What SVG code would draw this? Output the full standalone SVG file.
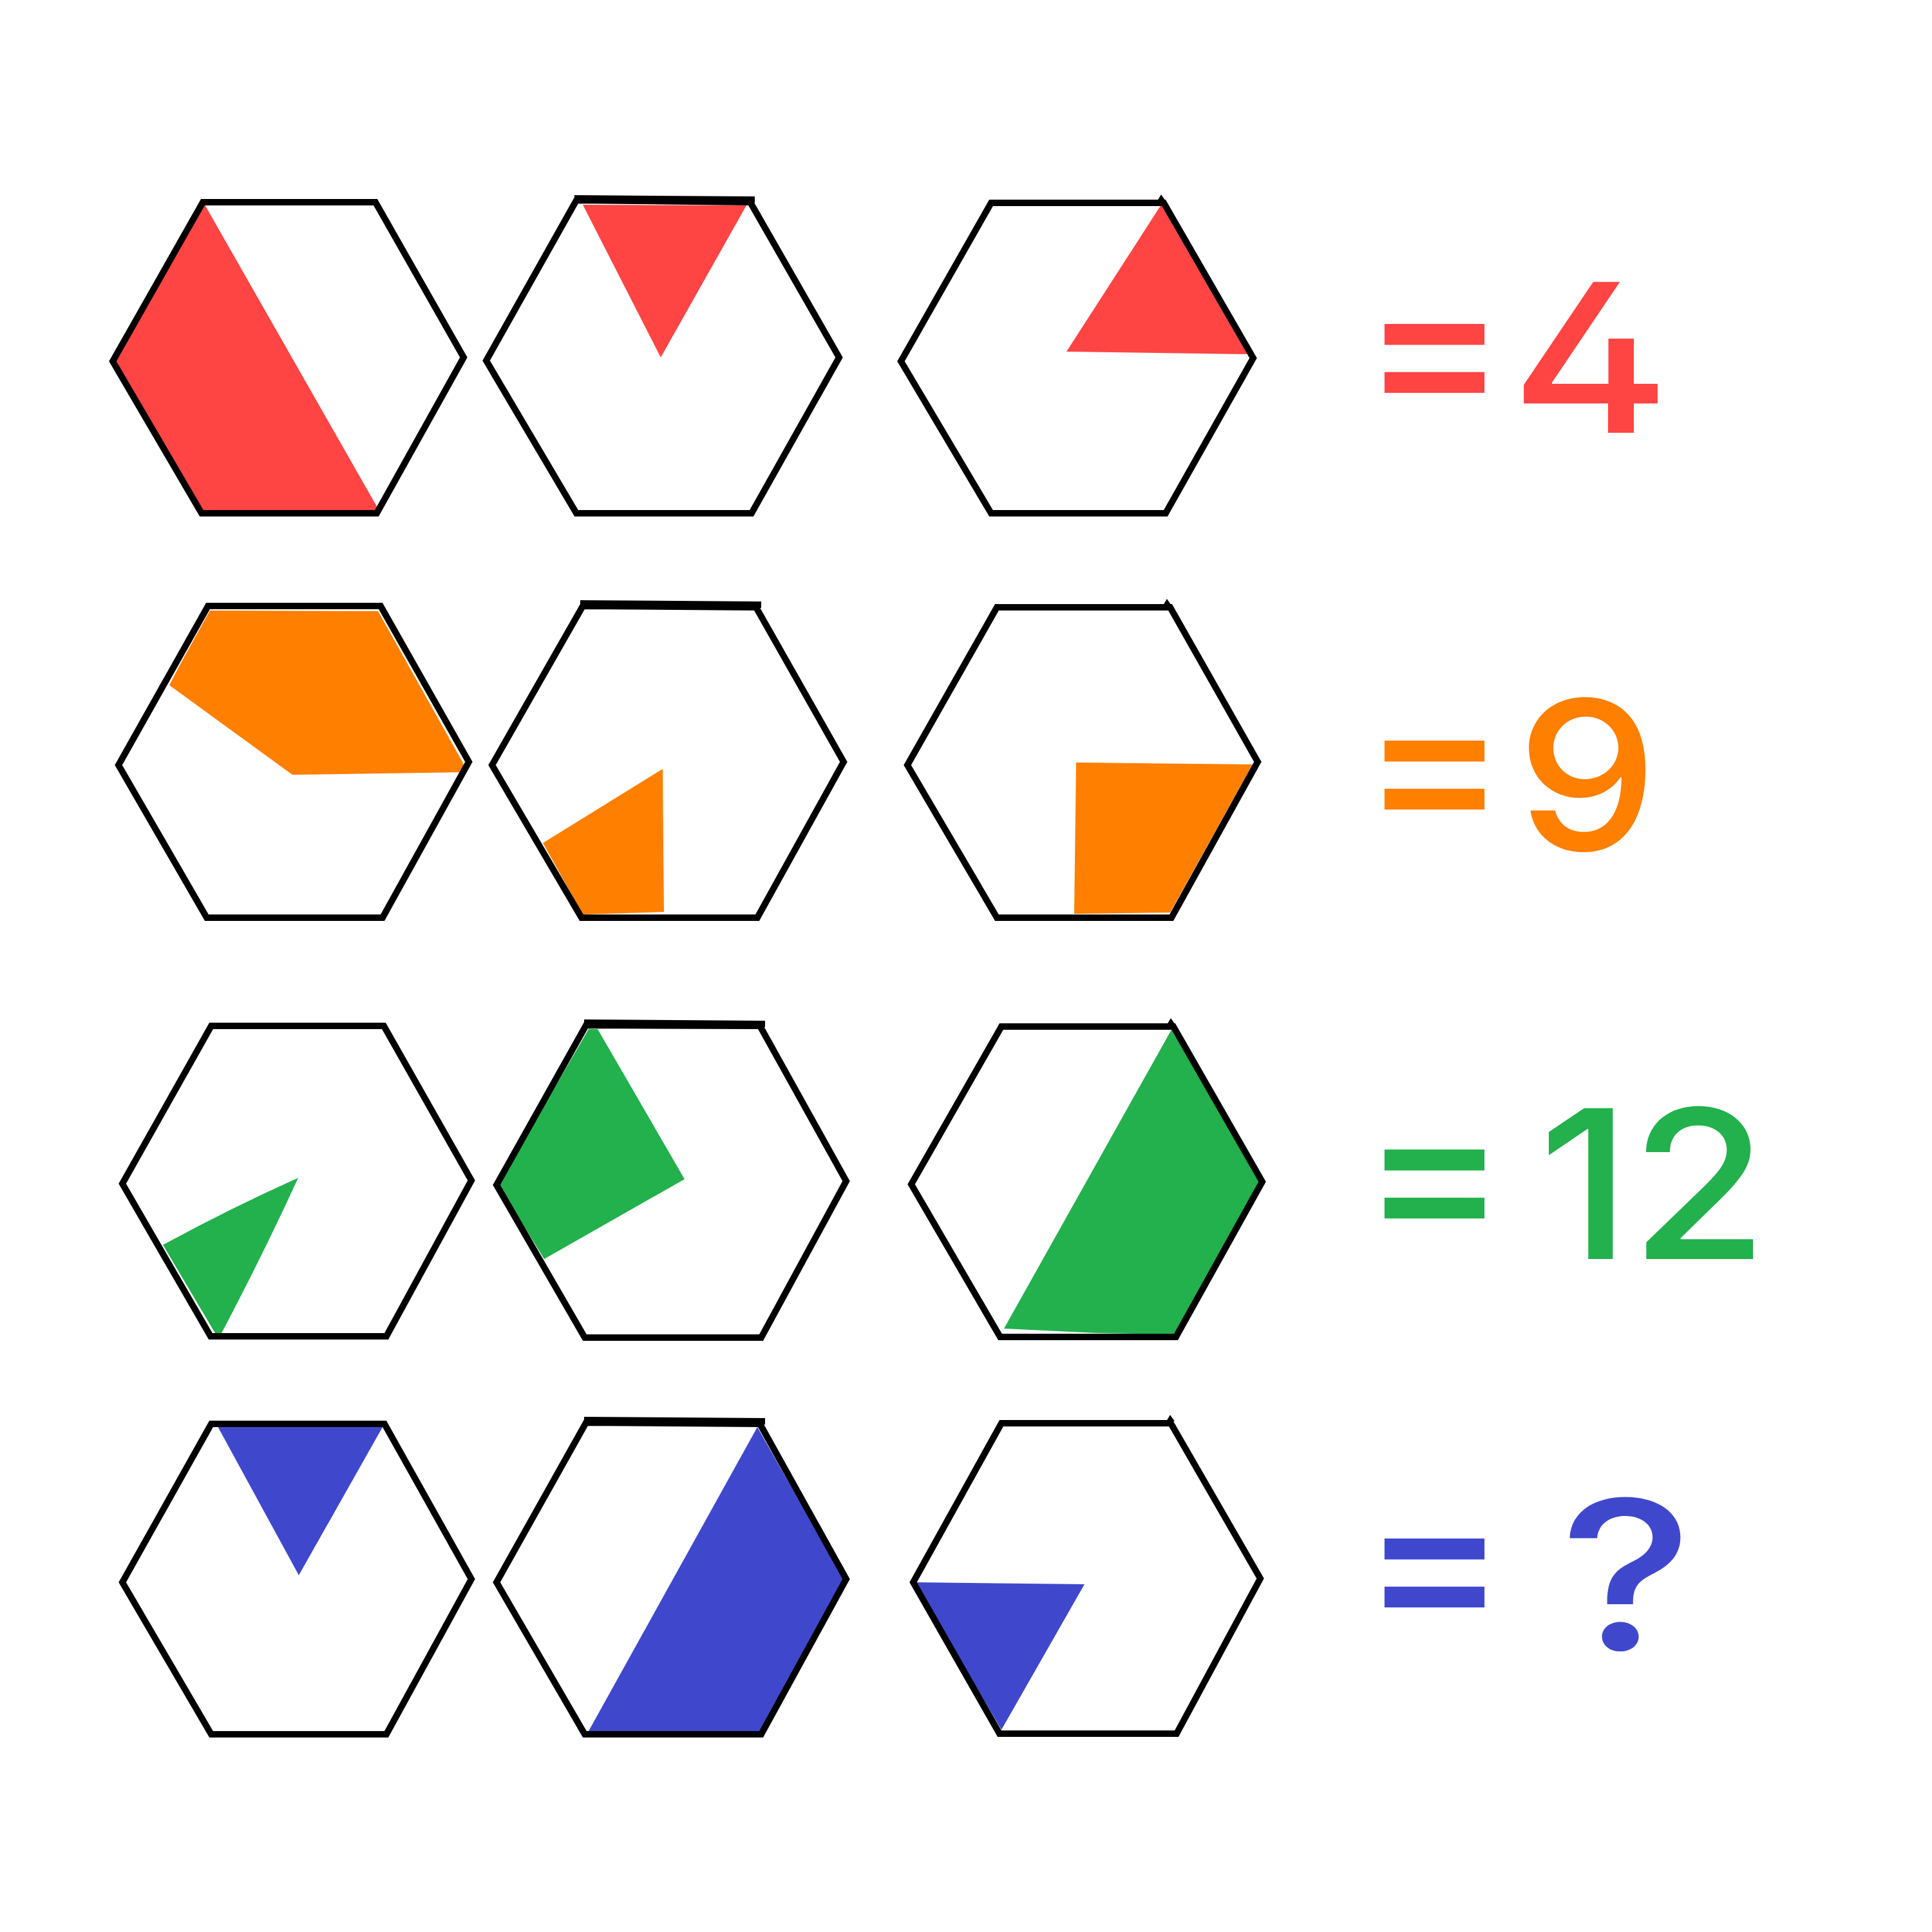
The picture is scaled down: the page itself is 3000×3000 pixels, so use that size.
<svg xmlns="http://www.w3.org/2000/svg" width="3000" height="3000" viewBox="0 0 3000 3000">
<style>
.hex{fill:none;stroke:#000;stroke-width:10;stroke-linejoin:miter;stroke-miterlimit:10}
.topline{stroke:#000;stroke-width:10;fill:none}
.spike{fill:#000}
.r{fill:#FF4444}
.o{fill:#FF7F00}
.g{fill:#22B14C}
.b{fill:#3F48CC}
.t{font-family:Inter,"Noto Sans",sans-serif;font-weight:500;font-size:322px;font-feature-settings:"cv02" 1}
.eq{font-family:Inter,"Noto Sans",sans-serif;font-weight:500;font-size:340px}
</style>
<rect x="0" y="0" width="3000" height="3000" fill="#fff"/>

<g id="row1">
<g id="hex-r1c1">
<polygon class="r" points="318,318 586,788 586,797 313,797 175,561"/>
<polygon class="hex" points="315,314 583,314 720,555 585,797 313,797 175,561"/>
</g>
<g id="hex-r1c2">
<polygon class="r" points="905,318 1159,319 1026,555"/>
<polygon class="hex" points="895,311 1165,314 1303,555 1167,797 895,797 755,560"/>
<line class="topline" x1="892" y1="308" x2="1172" y2="310"/>
</g>
<g id="hex-r1c3">
<polygon class="r" points="1803,318 1937,550 1656,546"/>
<polygon class="hex" points="1539,315 1807,315 1946,556 1810,797 1539,797 1399,561"/>
<polygon class="spike" points="1797,312 1803,302 1810,312"/>
</g>
<g id="label-r1">
<text class="eq" x="2114" y="654" fill="#FF4444">=</text>
<text class="t" transform="translate(2345,672) scale(1.18,1)" fill="#FF4444">4</text>
</g>
</g>

<g id="row2">
<g id="hex-r2c1">
<polygon class="o" points="326,948 587,949 718,1183 724,1199 454,1203 263,1064 279,1033"/>
<polygon class="hex" points="323,941 591,941 728,1183 594,1425 321,1425 184,1188"/>
</g>
<g id="hex-r2c2">
<polygon class="o" points="1029,1194 1031,1416 905,1420 843,1309"/>
<polygon class="hex" points="905,941 1174,943 1310,1183 1176,1425 903,1425 764,1188"/>
<line class="topline" x1="901" y1="937" x2="1182" y2="939"/>
</g>
<g id="hex-r2c3">
<polygon class="o" points="1671,1184 1945,1187 1817,1417 1668,1419"/>
<polygon class="hex" points="1548,943 1817,943 1953,1183 1819,1425 1548,1425 1409,1188"/>
<polygon class="spike" points="1806,940 1812,930 1819,940"/>
</g>
<g id="label-r2">
<text class="eq" x="2114" y="1301" fill="#FF7F00">=</text>
<text class="t" transform="translate(2355,1320) scale(1.08,1)" fill="#FF7F00">9</text>
</g>
</g>

<g id="row3">
<g id="hex-r3c1">
<path class="g" d="M463,1829 Q360,1875 253,1933 L334,2070 L344,2070 Q410,1945 463,1829 Z"/>
<polygon class="hex" points="328,1593 596,1593 732,1833 600,2075 327,2075 190,1838"/>
</g>
<g id="hex-r3c2">
<polygon class="g" points="914,1598 928,1598 1063,1831 845,1955 774,1840"/>
<polygon class="hex" points="910,1592 1180,1593 1314,1834 1182,2077 908,2077 771,1840"/>
<line class="topline" x1="907" y1="1588" x2="1188" y2="1590"/>
</g>
<g id="hex-r3c3">
<polygon class="g" points="1819,1599 1958,1835 1823,2072 1704,2070 1559,2063"/>
<polygon class="hex" points="1555,1594 1822,1594 1960,1835 1826,2076 1553,2076 1415,1839"/>
<polygon class="spike" points="1812,1591 1818,1581 1825,1591"/>
</g>
<g id="label-r3">
<text class="eq" x="2114" y="1936" fill="#22B14C">=</text>
<text class="t" transform="translate(2389,1955) scale(1.071,1)" fill="#22B14C">12</text>
</g>
</g>

<g id="row4">
<g id="hex-r4c1">
<polygon class="b" points="338,2215 594,2216 464,2446"/>
<polygon class="hex" points="328,2211 597,2211 732,2452 600,2693 328,2693 190,2457"/>
</g>
<g id="hex-r4c2">
<polygon class="b" points="1176,2216 1310,2452 1180,2688 914,2688"/>
<polygon class="hex" points="910,2209 1180,2211 1314,2452 1182,2693 908,2693 771,2457"/>
<line class="topline" x1="907" y1="2205" x2="1188" y2="2207"/>
</g>
<g id="hex-r4c3">
<polygon class="b" points="1421,2457 1684,2460 1555,2686"/>
<polygon class="hex" points="1555,2210 1818,2210 1957,2451 1827,2692 1552,2692 1418,2457"/>
<polygon class="spike" points="1811,2207 1817,2197 1824,2207"/>
</g>
<g id="label-r4">
<text class="eq" x="2114" y="2540" fill="#3F48CC">=</text>
<text class="t" transform="translate(2422,2562) scale(1.216,1)" fill="#3F48CC">?</text>
</g>
</g>
</svg>
